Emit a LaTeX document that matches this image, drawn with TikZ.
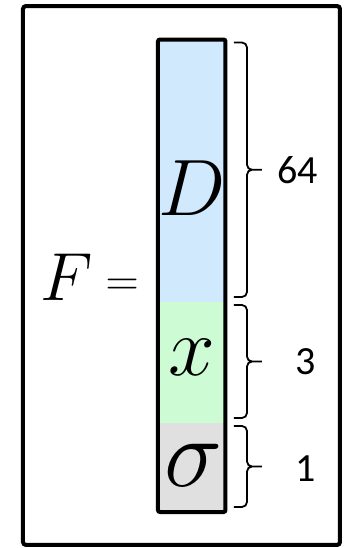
\RequirePackage{fix-cm}
\documentclass[tikz,border=0pt]{standalone}
\usepackage{fontspec}
\newfontfamily\numfont{Carlito}
\usetikzlibrary{positioning,calc}
\definecolor{dblue}{RGB}{208,233,252}
\definecolor{dgreen}{RGB}{204,251,212}
\definecolor{dgray}{RGB}{224,224,224}

\begin{document}
\begin{tikzpicture}[
    x=1pt,y=1pt,
    node distance=0pt,
    segment/.style={rectangle,minimum width=33.75pt,inner sep=0pt,outer sep=0pt},
    letter/.style={inner sep=0pt},
    bracket/.style={line width=0.9pt,rounded corners=2.5pt,
        to path={(\tikztostart) -| ($(\tikztostart)!.5!(\tikztotarget)+(6.5,0)$) -- ++(7.5,0)
                 (\tikztotarget) -| ($(\tikztostart)!.5!(\tikztotarget)+(6.5,0)$) -- ++(7.5,0)}},
    count/.style={inner sep=0pt,font=\numfont\fontsize{20}{24}\selectfont}
]
    \useasboundingbox (0,0) rectangle (174,274);
    \draw[line width=2pt,rounded corners=1.5pt] (11.5,1.5) rectangle (170,271);

    \node[segment,fill=dblue,minimum height=131.25pt,anchor=north west] (dseg) at (79,254.25) {};
    \node[segment,fill=dgreen,minimum height=60.5pt,below=of dseg] (xseg) {};
    \node[segment,fill=dgray,minimum height=44.5pt,below=of xseg] (sseg) {};
    \draw[line width=2pt,rounded corners=1pt] (dseg.north west) rectangle (sseg.south east);

    \node[letter,font=\fontsize{40}{48}\selectfont] (dlbl) at ([yshift=-8.5pt]dseg.center) {$D$};
    \node[letter,font=\fontsize{42}{50}\selectfont] (xlbl) at ([yshift=2.5pt]xseg.center) {$x$};
    \node[letter,font=\fontsize{49}{58}\selectfont] (slbl) at ([xshift=1pt,yshift=1pt]sseg.center) {$\sigma$};

    \node[letter,anchor=base west] (feq) at (20,124)
        {\fontsize{34}{40}\selectfont$F$\fontsize{23}{28}\selectfont\raisebox{2.5pt}{$\;=$}};

    \draw[bracket] ([xshift=4.25pt,yshift=-1.5pt]dseg.north east) to ([xshift=4.25pt,yshift=2.5pt]dseg.south east);
    \draw[bracket] ([xshift=4.25pt,yshift=-1.5pt]xseg.north east) to ([xshift=4.25pt,yshift=2.5pt]xseg.south east);
    \draw[bracket] ([xshift=4.25pt,yshift=-1.5pt]sseg.north east) to ([xshift=4.25pt,yshift=2.5pt]sseg.south east);

    \node[count] (n64) at ([xshift=36pt,yshift=0.5pt]dseg.east) {64};
    \node[count] (n3) at ([xshift=40.25pt,yshift=0.5pt]xseg.east) {3};
    \node[count] (n1) at ([xshift=40.25pt,yshift=-0.5pt]sseg.east) {1};
\end{tikzpicture}
\end{document}
